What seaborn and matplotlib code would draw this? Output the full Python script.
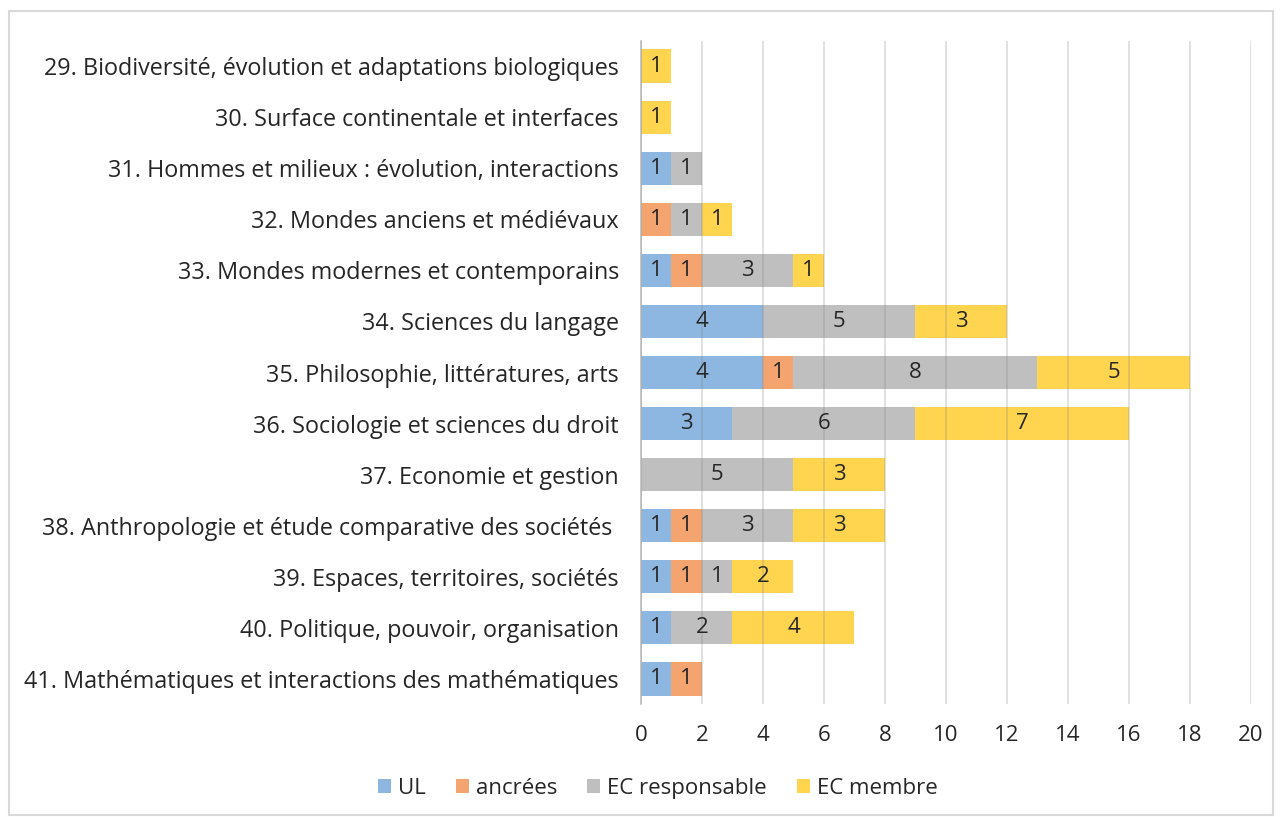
import numpy as np
import pandas as pd
import matplotlib
matplotlib.use("Agg")
import matplotlib.pyplot as plt
from matplotlib.patches import Rectangle, Patch
import seaborn as sns

# categories (top to bottom) and series values
categories = [
    "29. Biodiversité, évolution et adaptations biologiques",
    "30. Surface continentale et interfaces",
    "31. Hommes et milieux : évolution, interactions",
    "32. Mondes anciens et médiévaux",
    "33. Mondes modernes et contemporains",
    "34. Sciences du langage",
    "35. Philosophie, littératures, arts",
    "36. Sociologie et sciences du droit",
    "37. Economie et gestion",
    "38. Anthropologie et étude comparative des sociétés ",
    "39. Espaces, territoires, sociétés",
    "40. Politique, pouvoir, organisation",
    "41. Mathématiques et interactions des mathématiques",
]
ul = [0, 0, 1, 0, 1, 4, 4, 3, 0, 1, 1, 1, 1]
ancrees = [0, 0, 0, 1, 1, 0, 1, 0, 0, 1, 1, 0, 1]
ec_resp = [0, 0, 1, 1, 3, 5, 8, 6, 5, 3, 1, 2, 0]
ec_membre = [1, 1, 0, 1, 1, 3, 5, 7, 3, 3, 2, 4, 0]

series_names = ["UL", "ancrées", "EC responsable", "EC membre"]
series_values = [ul, ancrees, ec_resp, ec_membre]
colors = ["#8DB7E0", "#F4A46E", "#BFBFBF", "#FFD44F"]
text_color = "#262626"
fs = 16

sns.set_style("white")
plt.rcParams["font.family"] = ["Open Sans", "DejaVu Sans"]

df = pd.DataFrame({"cat": categories})
for name, vals in zip(series_names, series_values):
    df[name] = vals
cum = df[series_names].cumsum(axis=1)

fig = plt.figure(figsize=(12.82, 8.17), dpi=100)
ax = fig.add_axes([0.5, 0.1377, 0.4758, 0.8127])

# stacked bars: draw cumulative totals from the outermost layer inward
for i in range(len(series_names) - 1, -1, -1):
    sns.barplot(x=cum[series_names[i]], y=df["cat"], orient="h",
                color=colors[i], width=0.65, ax=ax, saturation=1,
                linewidth=0, zorder=2)

# value labels in the middle of each segment
for i, name in enumerate(series_names):
    for j in range(len(categories)):
        v = df[name].iloc[j]
        if v > 0:
            center = cum[name].iloc[j] - v / 2
            ax.text(center, j, str(v), ha="center", va="center",
                    fontsize=fs, color=text_color, zorder=4)

ax.set_xlim(0, 20)
ax.set_ylim(len(categories) - 0.5, -0.5)
ax.set_xticks(range(0, 21, 2))
ax.xaxis.grid(True, color="grey", alpha=0.28, linewidth=1.2, zorder=3)
ax.set_axisbelow(False)
ax.set_xlabel("")
ax.set_ylabel("")
for s in ["top", "right", "bottom"]:
    ax.spines[s].set_visible(False)
ax.spines["left"].set_color("#BFBFBF")
ax.spines["left"].set_linewidth(1.2)
ax.tick_params(axis="both", length=0, labelsize=fs, colors=text_color)
ax.tick_params(axis="y", pad=16, labelsize=16.8)
ax.tick_params(axis="x", pad=15)

handles = [Patch(facecolor=c, edgecolor="none") for c in colors]
fig.legend(handles, series_names, loc="center", bbox_to_anchor=(0.513, 0.035),
           ncol=4, frameon=False, fontsize=fs, handlelength=0.6,
           handleheight=0.6, handletextpad=0.3, columnspacing=1.35,
           labelcolor=text_color)

# outer chart border
fig.patches.append(Rectangle((9 / 1282, 0.003), 1 - 18 / 1282, 1 - 11 / 817 - 0.003,
                             transform=fig.transFigure, fill=False,
                             edgecolor="#D9D9D9", linewidth=1.5))

fig.savefig("out.png", dpi=100)
